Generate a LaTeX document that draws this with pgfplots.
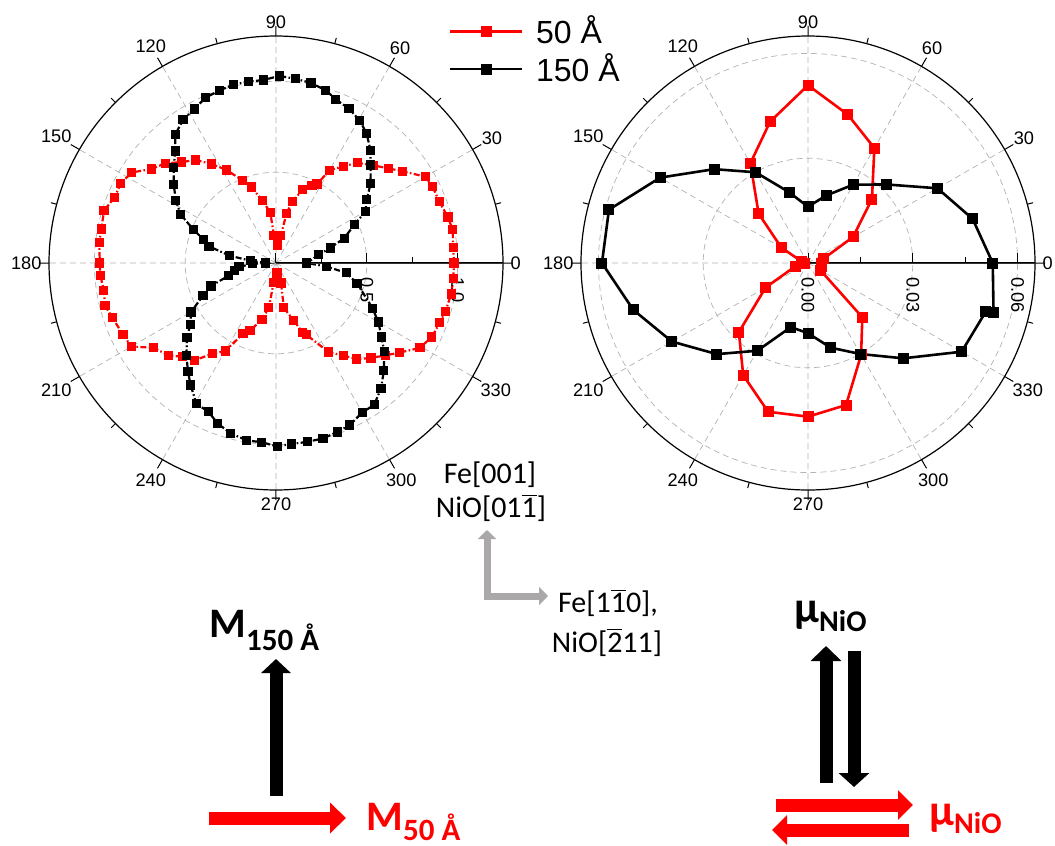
\documentclass[border=0pt]{standalone}
\usepackage{fontspec}
\setmainfont{Liberation Sans}
\newfontfamily\calib{Carlito}
\usepackage{pgfplots}
\pgfplotsset{compat=1.18}
\usepgfplotslibrary{polar}
\usetikzlibrary{arrows.meta}
\newcommand{\ob}[1]{\ensuremath{\overline{\mbox{#1}}}}

\pgfplotsset{
 mypolar/.style={
  anchor=center, scale only axis, width=227pt, height=227pt,
  xtick={0,30,...,330},
  xticklabels={0,30,60,90,120,150,180,210,240,270,300,330},
  minor xtick={15,45,...,345},
  ymin=0,
  grid=major,
  major grid style={densely dashed, gray!60, line width=0.35pt},
  xticklabel style={font=\fontsize{9.1}{10}\selectfont, inner sep=3.6pt},
  yticklabels={},
  scaled y ticks=false,
  axis line style={line width=0.6pt, black},
  tick style={black, line width=0.5pt},
  major tick length=5pt, minor tick length=3pt,
  clip=false,
 },
}
\tikzset{rlab/.style={rotate=-90, anchor=west, inner xsep=7pt, inner ysep=0pt, font=\fontsize{9.1}{10}\selectfont}}

\pgfplotstableread{
a r
0 0.98
5 0.98
10.7 0.99
15 0.98
20.6 0.96
26 0.96
30 0.95
36 0.86
40 0.81
45 0.76
51 0.71
55 0.65
60 0.59
62.5 0.49
65 0.47
70 0.43
75 0.35
78 0.28
80 0.155
84 0.10
94 0.15
96.5 0.28
102 0.35
108 0.44
112 0.49
118 0.58
123 0.65
128 0.72
133 0.76
138 0.82
143 0.86
148 0.94
153 0.96
158 0.96
163 0.99
169 0.98
173.5 0.98
180 0.97
184 0.97
189 0.96
194 0.97
198.5 0.95
205 0.93
210 0.92
214.7 0.82
220.7 0.78
225 0.73
230 0.70
235 0.61
240 0.56
245 0.43
249 0.40
256 0.32
261 0.25
263 0.106
276 0.055
284 0.114
280 0.25
287 0.33
291 0.41
293 0.43
300.6 0.57
306 0.63
310 0.69
315 0.74
320 0.79
324 0.84
329.5 0.92
334.6 0.95
340 0.96
344 0.97
350 0.98
355 0.98
360 0.98
}\redL

\pgfplotstableread{
a r
0 0.17
11 0.24
15.5 0.31
20 0.40
26 0.48
30 0.57
35 0.61
40 0.68
46 0.75
50 0.81
55 0.87
59.5 0.91
64.7 0.94
70 0.96
74 0.99
79 1.01
84 1.02
89 1.03
94 1.01
98.7 1.01
103.5 1.01
108 1.00
113 0.99
118 0.96
123 0.94
128 0.90
132 0.83
137 0.77
142.5 0.71
148 0.65
153 0.59
158 0.49
162 0.42
166 0.38
171 0.26
175 0.14
180 0.06
182 0.13
186 0.205
190 0.23
195 0.27
199.5 0.38
204 0.44
210 0.54
215.6 0.58
220 0.64
226 0.71
231 0.77
235 0.82
240.5 0.89
245.6 0.90
250 0.94
255 0.97
260.6 0.99
265.4 0.99
270.4 1.01
275 1.00
280 1.00
285 1.00
290 0.99
294.5 0.98
300 0.95
304.7 0.95
310 0.90
315 0.84
320.7 0.77
325 0.71
330 0.65
334.7 0.59
346 0.46
352 0.39
356 0.28
360 0.17
}\blackL

\pgfplotstableread{
a r
0 0.0040
15 0.0045
30 0.0149
45 0.0259
60 0.0380
75 0.0440
90 0.0509
105 0.0419
120 0.0330
135 0.0200
150 0.0088
165 0.0020
180 0.0010
195 0.0038
210 0.0140
225 0.0280
240 0.0371
255 0.0441
270 0.0440
285 0.0421
300 0.0304
315 0.0220
330 0.0041
345 0.0040
360 0.0040
}\redR

\pgfplotstableread{
a r
0 0.0529
15 0.0488
30 0.0428
45 0.0318
60 0.0259
75 0.0200
90 0.0161
105 0.0210
120 0.0300
135 0.0380
150 0.0489
165 0.0590
180 0.0590
195 0.0518
210 0.0450
225 0.0369
240 0.0290
255 0.0190
270 0.0201
285 0.0251
300 0.0301
315 0.0386
330 0.0508
344.8 0.0528
345 0.0550
360 0.0529
}\blackR

\begin{document}
\begin{tikzpicture}
\path[use as bounding box] (0pt,0pt) rectangle (527.5pt,-423pt);

% ---------- left polar plot ----------
\begin{polaraxis}[mypolar, at={(138pt,-131.5pt)},
  ymax=1.25, ytick={0,0.5,1}, minor ytick={0.25,0.75},
  legend style={at={(0.88,1.056)}, anchor=north west, draw=none, fill=none,
    font=\fontsize{16}{18}\selectfont, row sep=-1.5pt, inner sep=0pt,
    nodes={inner sep=2.5pt},
    /tikz/every odd column/.append style={column sep=4pt}},
  legend cell align=left,
  legend image code/.code={\draw[mark repeat=2, mark phase=2, #1, solid, mark size=2.2pt] plot coordinates {(0pt,0pt) (18pt,0pt) (36pt,0pt)};},
]
\addplot[red, line width=1.1pt, dash pattern=on 3pt off 1.2pt on 0.8pt off 1.2pt,
  mark=square*, mark size=1.75pt, mark options={solid}] table[x=a,y=r] {\redL};
\addlegendentry{50 Å}
\addplot[black, line width=1.1pt, dash pattern=on 3pt off 1.2pt on 0.8pt off 1.2pt,
  mark=square*, mark size=1.75pt, mark options={solid}] table[x=a,y=r] {\blackL};
\addlegendentry{150 Å}
\draw[black!80, line width=0.5pt] (axis cs:0,0) -- (axis cs:0,1.25);
\node[rlab] at (axis cs:0,0) {0};
\node[rlab] at (axis cs:0,0.5) {0.5};
\node[rlab] at (axis cs:0,1) {1.0};
\end{polaraxis}

% ---------- right polar plot ----------
\begin{polaraxis}[mypolar, at={(404pt,-131.5pt)},
  ymax=0.065, ytick={0,0.03,0.06}, minor ytick={0.015,0.045},
]
\addplot[red, line width=1.3pt, mark=square*, mark size=2.1pt] table[x=a,y=r] {\redR};
\addplot[black, line width=1.3pt, mark=square*, mark size=2.1pt] table[x=a,y=r] {\blackR};
\draw[black!80, line width=0.5pt] (axis cs:0,0) -- (axis cs:0,0.065);
\node[rlab] at (axis cs:0,0) {0.00};
\node[rlab] at (axis cs:0,0.03) {0.03};
\node[rlab] at (axis cs:0,0.06) {0.06};
\end{polaraxis}

% ---------- annotations ----------
\begin{scope}[x=0.5pt,y=-0.5pt]
\node[anchor=base, inner sep=0pt, font=\calib\fontsize{15}{18}\selectfont] at (490,483) {Fe[001]};
\node[anchor=base, inner sep=0pt, font=\calib\fontsize{15}{18}\selectfont] at (491,517) {NiO[01\ob{1}]};
\node[anchor=base, inner sep=0pt, font=\calib\fontsize{15}{18}\selectfont] at (608,612) {Fe[1\ob{1}0],};
\node[anchor=base, inner sep=0pt, font=\calib\fontsize{15}{18}\selectfont] at (607,652) {NiO[\ob{2}11]};
\draw[line width=3.5pt, color={rgb,255:red,170;green,168;blue,168},
  {Triangle[width=9pt,length=4.5pt]}-{Triangle[width=9pt,length=4.5pt]}]
  (487,530) -- (487,596) -- (548,596);

\draw[black, line width=6.5pt, -{Triangle[width=14.5pt,length=7pt]}] (276,796) -- (276,659);
\draw[red, line width=6.5pt, -{Triangle[width=15pt,length=8pt]}] (209,818) -- (346,818);
\node[anchor=base west, inner sep=0pt] at (209,637)
  {\calib\bfseries\fontsize{21}{22}\selectfont M\raisebox{-6.5pt}{\fontsize{15.5}{16}\selectfont 150 Å}};
\node[anchor=base west, inner sep=0pt, red] at (366,830)
  {\calib\bfseries\fontsize{21}{22}\selectfont M\raisebox{-5pt}{\fontsize{15.5}{16}\selectfont 50 Å}};

\draw[black, line width=6.5pt, -{Triangle[width=15pt,length=7.5pt]}] (826,783) -- (826,646);
\draw[black, line width=6.5pt, -{Triangle[width=15pt,length=7pt]}] (854,651) -- (854,787);
\draw[red, line width=6.5pt, -{Triangle[width=14.5pt,length=7.5pt]}] (776,805) -- (913,805);
\draw[red, line width=6.5pt, -{Triangle[width=14.5pt,length=7.5pt]}] (909,830) -- (772,830);
\node[anchor=base west, inner sep=0pt] at (794,622)
  {\calib\bfseries\fontsize{22}{24}\selectfont μ\raisebox{-4.5pt}{\fontsize{15}{16}\selectfont NiO}};
\node[anchor=base west, inner sep=0pt, red] at (929,825)
  {\calib\bfseries\fontsize{22}{24}\selectfont μ\raisebox{-4pt}{\fontsize{15}{16}\selectfont NiO}};
\end{scope}
\end{tikzpicture}
\end{document}
